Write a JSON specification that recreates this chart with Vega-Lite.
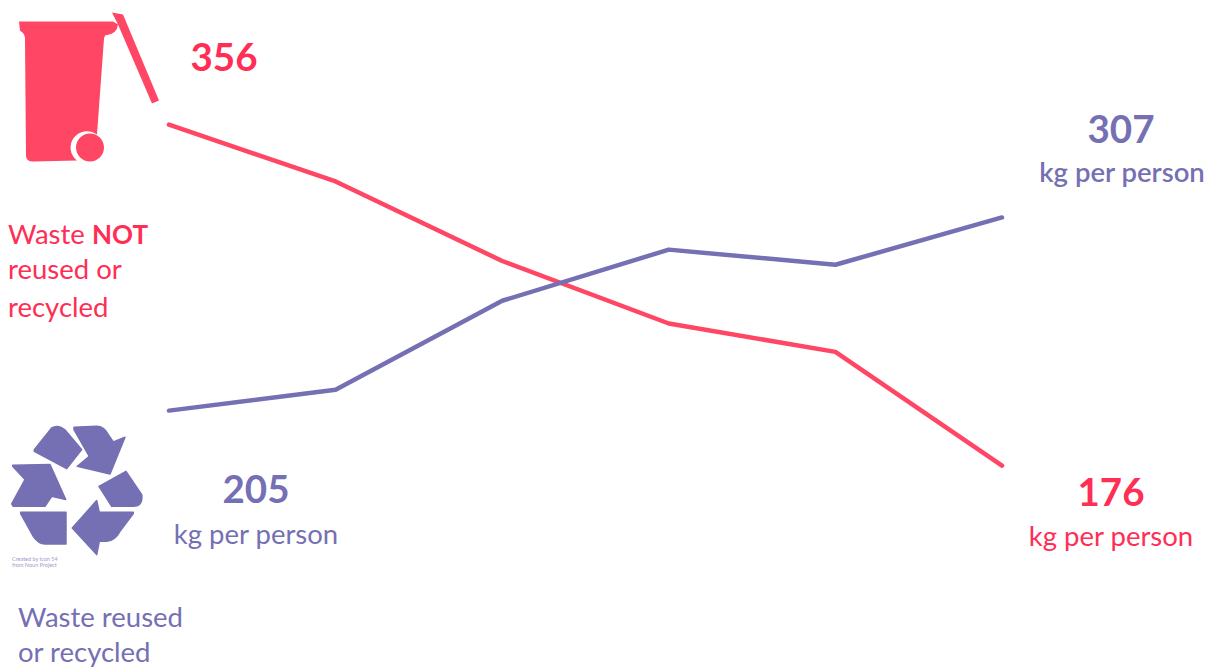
{
  "$schema": "https://vega.github.io/schema/vega-lite/v6.json",
  "width": 1212,
  "height": 668,
  "padding": 0,
  "autosize": {"type": "none"},
  "background": "white",
  "config": {
    "view": {"stroke": null},
    "text": {"font": "Lato", "baseline": "middle"}
  },
  "datasets": {
    "waste": [
      {"step": 0, "stream": "not reused", "kg": 356},
      {"step": 1, "stream": "not reused", "kg": 326},
      {"step": 2, "stream": "not reused", "kg": 284},
      {"step": 3, "stream": "not reused", "kg": 251},
      {"step": 4, "stream": "not reused", "kg": 236},
      {"step": 5, "stream": "not reused", "kg": 176},
      {"step": 0, "stream": "reused", "kg": 205},
      {"step": 1, "stream": "reused", "kg": 216},
      {"step": 2, "stream": "reused", "kg": 263},
      {"step": 3, "stream": "reused", "kg": 290},
      {"step": 4, "stream": "reused", "kg": 282},
      {"step": 5, "stream": "reused", "kg": 307}
    ]
  },
  "data": {"name": "waste"},
  "encoding": {
    "x": {"field": "step", "type": "quantitative", "axis": null, "scale": {"domain": [-1.0144, 6.2605], "nice": false, "zero": false}},
    "y": {"field": "kg", "type": "quantitative", "axis": null, "scale": {"domain": [69.1, 421.8], "nice": false, "zero": false}}
  },
  "layer": [
    {
      "mark": {"type": "line", "strokeWidth": 4.5, "strokeCap": "round", "strokeJoin": "round"},
      "encoding": {
        "color": {"field": "stream", "type": "nominal", "legend": null, "scale": {"domain": ["not reused", "reused"], "range": ["#FF4664", "#7570B3"]}}
      }
    },
    {
      "transform": [{"filter": "datum.stream === 'not reused' && datum.step === 0"}],
      "mark": {
        "type": "point", "filled": true, "size": 4, "opacity": 1, "color": "#FF4664",
        "shape": "M-150,-103 L-56,-103 L-51,-100 Q-52,-90 -64,-89 L-65,-86 L-72,10 A15,15 0 0 0 -92,36 L-136,37 Q-143,37 -143,31 L-144,-86 Q-144,-91 -149,-94 Z M-93,23 A14,14 0 1 0 -65,23 A14,14 0 1 0 -93,23 Z M-57,-112 L-46,-110 L-10,-24 L-17,-21 L-51,-100 Z"
      }
    },
    {
      "transform": [{"filter": "datum.stream === 'reused' && datum.step === 0"}],
      "mark": {
        "type": "point", "filled": true, "size": 4, "opacity": 1, "color": "#7570B3", "stroke": "#7570B3", "strokeWidth": 1.5, "strokeJoin": "round",
        "shape": "M-134.7,39 L-117.3,17.3 Q-110.7,13.3 -103.3,20 L-87.3,39 L-102.3,58 L-134.7,40.7 Z M-95,16.7 L-72.3,15.7 Q-65,15.7 -60.7,24 L-55.7,31.3 L-44,26.7 L-59,63.3 L-91.7,55.7 L-79.7,45.7 L-95,19 Z M-70,75.7 L-43,60.7 L-27.3,84 Q-25.7,95.7 -35.7,95.7 L-57.3,95.7 Z M-35.7,101.7 L-69.7,101.7 L-72.3,90 L-96.7,117.3 L-72.3,144 L-69.7,130.7 L-62.3,130.7 Q-54,130 -49,120.7 L-35.7,103 Z M-148.3,101.7 L-103,101.7 L-103,133.3 L-124,133.3 Q-130.7,133.3 -135.7,125.7 L-148.3,103 Z M-156.3,54.7 L-119,54 L-103.3,89 L-117.3,85.7 L-124,95.7 L-155.7,95.7 L-157.3,93.3 L-144,69 L-156.3,55.7 Z"
      }
    },
    {
      "transform": [{"filter": "datum.stream === 'not reused' && datum.step === 0"}],
      "mark": {"type": "text", "fontSize": 38.5, "fontWeight": "bold", "color": "#FF2E55", "dx": 55, "dy": -66},
      "encoding": {"text": {"field": "kg", "type": "quantitative"}}
    },
    {
      "transform": [{"filter": "datum.stream === 'reused' && datum.step === 0"}],
      "mark": {"type": "text", "fontSize": 38.5, "fontWeight": "bold", "color": "#7570B3", "dx": 87, "dy": 80},
      "encoding": {"text": {"field": "kg", "type": "quantitative"}}
    },
    {
      "transform": [{"filter": "datum.stream === 'reused' && datum.step === 5"}],
      "mark": {"type": "text", "fontSize": 38.5, "fontWeight": "bold", "color": "#7570B3", "dx": 119, "dy": -86},
      "encoding": {"text": {"field": "kg", "type": "quantitative"}}
    },
    {
      "transform": [{"filter": "datum.stream === 'not reused' && datum.step === 5"}],
      "mark": {"type": "text", "fontSize": 38.5, "fontWeight": "bold", "color": "#FF2E55", "dx": 109, "dy": 28},
      "encoding": {"text": {"field": "kg", "type": "quantitative"}}
    },
    {
      "transform": [{"filter": "datum.stream === 'reused' && datum.step === 5"}],
      "mark": {"type": "text", "text": "kg per person", "fontSize": 27.5, "fontWeight": 600, "color": "#7570B3", "dx": 120, "dy": -43}
    },
    {
      "transform": [{"filter": "datum.stream === 'reused' && datum.step === 0"}],
      "mark": {"type": "text", "text": "kg per person", "fontSize": 27.5, "color": "#7570B3", "dx": 87, "dy": 125}
    },
    {
      "transform": [{"filter": "datum.stream === 'not reused' && datum.step === 5"}],
      "mark": {"type": "text", "text": "kg per person", "fontSize": 27.5, "color": "#FF2E55", "dx": 109, "dy": 72}
    },
    {
      "transform": [{"filter": "datum.stream === 'not reused' && datum.step === 0"}],
      "mark": {"type": "text", "text": "Waste", "align": "left", "fontSize": 27.5, "color": "#FF2E55", "dx": -161, "dy": 111}
    },
    {
      "transform": [{"filter": "datum.stream === 'not reused' && datum.step === 0"}],
      "mark": {"type": "text", "text": "NOT", "align": "left", "fontSize": 26, "fontWeight": "bold", "color": "#FF2E55", "dx": -77, "dy": 111}
    },
    {
      "transform": [{"filter": "datum.stream === 'not reused' && datum.step === 0"}],
      "mark": {"type": "text", "text": "reused or", "align": "left", "fontSize": 27.5, "color": "#FF2E55", "dx": -161, "dy": 146}
    },
    {
      "transform": [{"filter": "datum.stream === 'not reused' && datum.step === 0"}],
      "mark": {"type": "text", "text": "recycled", "align": "left", "fontSize": 27.5, "color": "#FF2E55", "dx": -161, "dy": 184}
    },
    {
      "transform": [{"filter": "datum.stream === 'reused' && datum.step === 0"}],
      "mark": {"type": "text", "text": "Waste reused", "align": "left", "fontSize": 27.5, "color": "#7570B3", "dx": -151, "dy": 208}
    },
    {
      "transform": [{"filter": "datum.stream === 'reused' && datum.step === 0"}],
      "mark": {"type": "text", "text": "or recycled", "align": "left", "fontSize": 27.5, "color": "#7570B3", "dx": -151, "dy": 243}
    },
    {
      "transform": [{"filter": "datum.stream === 'reused' && datum.step === 0"}],
      "mark": {"type": "text", "text": "Created by Icon 54", "align": "left", "fontSize": 5.5, "opacity": 0.7, "color": "#7570B3", "dx": -157, "dy": 148}
    },
    {
      "transform": [{"filter": "datum.stream === 'reused' && datum.step === 0"}],
      "mark": {"type": "text", "text": "from Noun Project", "align": "left", "fontSize": 5.5, "opacity": 0.7, "color": "#7570B3", "dx": -157, "dy": 154}
    }
  ]
}
